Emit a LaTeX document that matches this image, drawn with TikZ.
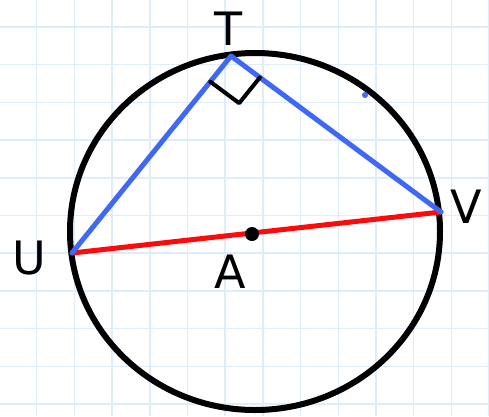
\documentclass[tikz,border=0pt]{standalone}
\usepackage{fontspec}
\setmainfont{DejaVu Sans}
\usetikzlibrary{calc}

\definecolor{gridblue}{RGB}{222,236,252}
\definecolor{chordblue}{RGB}{64,104,246}
\definecolor{diamred}{RGB}{250,12,12}

\begin{document}
\begin{tikzpicture}[
  x=1pt,y=-1pt,
  gridline/.style={draw=gridblue,line width=1.5pt},
  rim/.style={draw=black,line width=6pt},
  chord/.style={draw=chordblue,line width=5pt,line cap=round,line join=round},
  diam/.style={draw=diamred,line width=5pt,line cap=round},
  rightmark/.style={draw=black,line width=4pt,line cap=round,line join=round},
  lbl/.style={font=\fontsize{46}{46}\selectfont,inner sep=0pt}
]
  \useasboundingbox (0,0) rectangle (489,416);
  \fill[white] (0,0) rectangle (489,416);

  % squared paper
  \foreach \i in {0,...,13}
    \draw[gridline] ({-1+37.7*\i},0) -- ++(0,416);
  \foreach \j in {0,...,10}
    \draw[gridline] (0,{27+37.7*\j}) -- ++(489,0);

  % points on the circle
  \coordinate (T) at (231,56);
  \coordinate (U) at (72,253);
  \coordinate (V) at (441,212);
  \coordinate (A) at (252,234);

  \draw[rim] (255,231.5) ellipse [x radius=185pt,y radius=178.5pt];

  % diameter and the two chords
  \draw[diam] (U) -- (V);
  \draw[chord] (U) -- (T) -- (V);

  % right angle at T
  \draw[rightmark] ($(T)!33pt!(U)$) -- ($(T)!33pt!(U)+(T)!36pt!(V)-(T)$) -- ($(T)!36pt!(V)$);

  \fill[black] (A) circle [radius=7pt];
  \fill[chordblue] (365,95) circle [radius=3pt];

  \node[lbl] (lblT) at (229,29) {T};
  \node[lbl] (lblU) at (29,258) {U};
  \node[lbl] (lblV) at (466,207) {V};
  \node[lbl] (lblA) at (230,272) {A};
\end{tikzpicture}
\end{document}
